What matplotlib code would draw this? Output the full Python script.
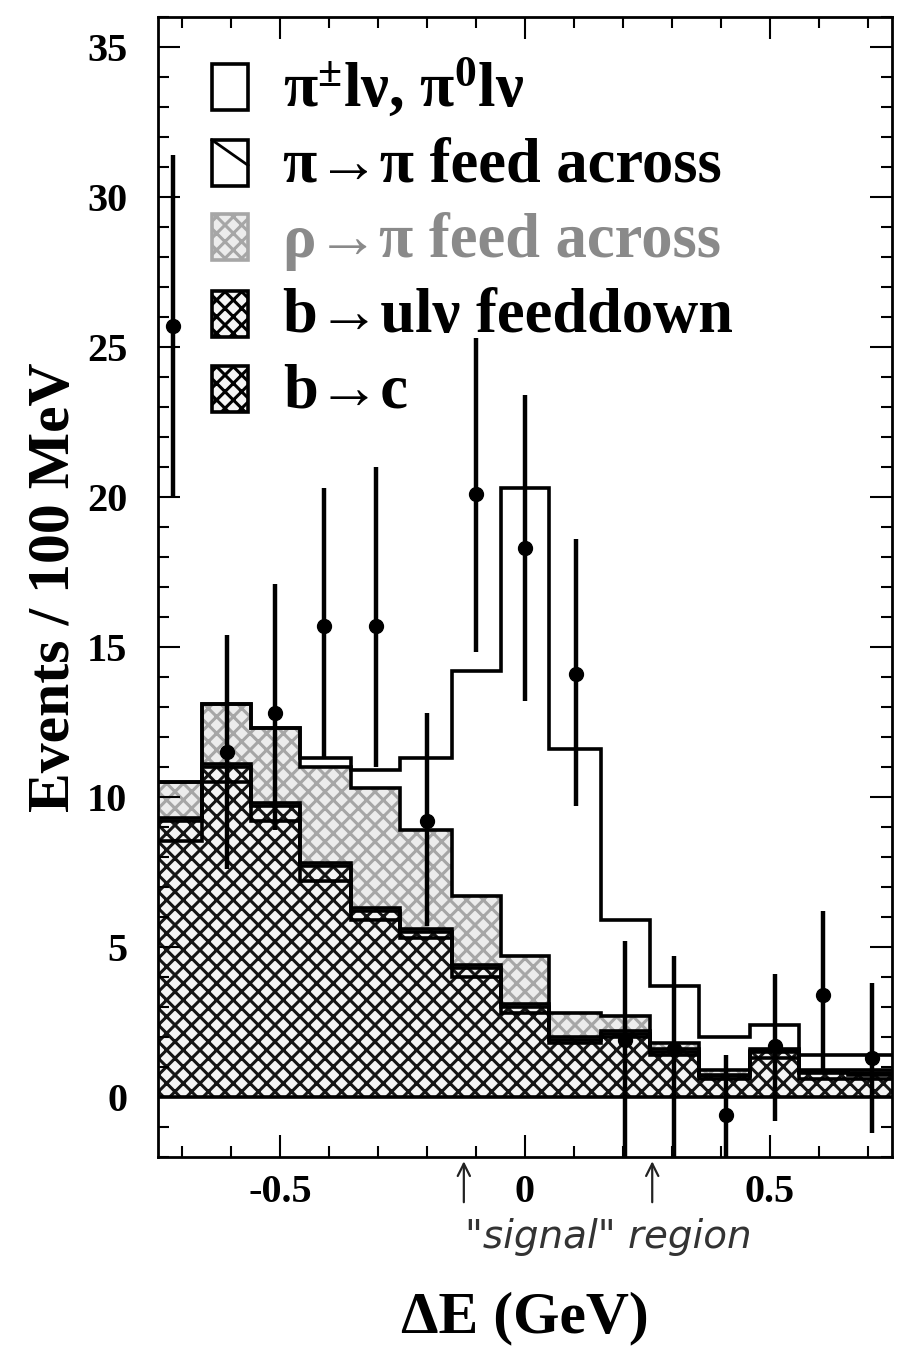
import matplotlib.pyplot as plt
from matplotlib.patches import Rectangle
from matplotlib.ticker import MultipleLocator, FixedLocator

plt.rcParams['font.family'] = ['Liberation Serif', 'DejaVu Serif']
plt.rcParams['font.weight'] = 'bold'
plt.rcParams['axes.unicode_minus'] = False
plt.rcParams['mathtext.fontset'] = 'custom'
plt.rcParams['mathtext.rm'] = 'Liberation Serif:bold'
plt.rcParams['mathtext.it'] = 'Liberation Serif:bold'
plt.rcParams['hatch.linewidth'] = 2.2

# bin edges of the histogram (GeV)
edges = [-0.75, -0.66, -0.56, -0.46, -0.355, -0.255, -0.15, -0.05,
         0.05, 0.155, 0.255, 0.355, 0.46, 0.56, 0.66, 0.75]

# stacked components, events per bin (bottom to top)
b_to_c = [8.55, 10.5, 9.2, 7.2, 5.9, 5.3, 4.0, 2.8, 1.8, 2.0, 1.4, 0.6, 1.3, 0.6, 0.6]
b_ulnu = [0.65, 0.5, 0.5, 0.5, 0.3, 0.2, 0.3, 0.2, 0.1, 0.1, 0.1, 0.1, 0.2, 0.2, 0.15]
pi_pi = [0.1, 0.1, 0.1, 0.1, 0.1, 0.1, 0.1, 0.1, 0.1, 0.1, 0.1, 0.05, 0.05, 0.05, 0.05]
rho_pi = [1.2, 2.0, 2.5, 3.2, 4.0, 3.3, 2.3, 1.6, 0.8, 0.5, 0.2, 0.15, 0.05, 0.05, 0.1]
signal = [0.0, 0.0, 0.0, 0.3, 0.6, 2.4, 7.5, 15.6, 8.8, 3.2, 1.9, 1.1, 0.8, 0.5, 0.5]

# data points with error bars
data_x = [-0.72, -0.61, -0.51, -0.41, -0.305, -0.2, -0.1, 0.0,
          0.105, 0.205, 0.305, 0.41, 0.51, 0.61, 0.71]
data_y = [25.7, 11.5, 12.8, 15.7, 15.7, 9.2, 20.1, 18.3, 14.1, 1.9, 1.6, -0.6, 1.7, 3.4, 1.3]
data_lo = [20.0, 7.6, 8.9, 11.3, 11.0, 5.7, 14.85, 13.2, 9.7, -2.2, -2.2, -2.2, -0.8, 0.8, -1.2]
data_hi = [31.4, 15.4, 17.1, 20.3, 21.0, 12.8, 25.3, 23.4, 18.6, 5.2, 4.7, 1.4, 4.1, 6.2, 3.8]

labels = [r'π$^{\pm}$lν, π$^{0}$lν', 'π→π feed across', 'ρ→π feed across',
          'b→ulν feeddown', 'b→c']
signal_region = [-0.125, 0.26]

fig = plt.figure(figsize=(8.98, 13.47), dpi=100)
ax = fig.add_axes([158 / 898, 190 / 1347, 734 / 898, 1140 / 1347])

# cumulative stack
layers = [b_to_c, b_ulnu, pi_pi, rho_pi, signal]
styles = [
    dict(facecolor='#f4f4f4', edgecolor='#151515', hatch='xx'),
    dict(facecolor='#f4f4f4', edgecolor='#151515', hatch='xx'),
    dict(facecolor='white', edgecolor='#222222', hatch='\\'),
    dict(facecolor='#ececec', edgecolor='#a6a6a6', hatch='xx'),
    dict(facecolor='white', edgecolor='white', hatch=None),
]
bottom = [0.0] * len(b_to_c)
tops = []
for vals, st in zip(layers, styles):
    top = [b + v for b, v in zip(bottom, vals)]
    ax.stairs(top, edges, baseline=bottom, fill=True, linewidth=0, **st)
    tops.append(top)
    bottom = top
for top in tops:
    ax.stairs(top, edges, baseline=None, color='black', linewidth=2.6)

ax.axhline(0, color='black', linewidth=2.6)

yerr = [[y - lo for y, lo in zip(data_y, data_lo)],
        [hi - y for y, hi in zip(data_y, data_hi)]]
ax.errorbar(data_x, data_y, yerr=yerr, fmt='o', color='black', ms=10,
            elinewidth=3.2, capsize=0, zorder=5, clip_on=True)

ax.set_xlim(-0.75, 0.75)
ax.set_ylim(-2, 36)
ax.xaxis.set_major_locator(FixedLocator([-0.5, 0, 0.5]))
ax.set_xticklabels(['-0.5', '0', '0.5'])
ax.xaxis.set_minor_locator(MultipleLocator(0.1))
ax.yaxis.set_major_locator(MultipleLocator(5))
ax.yaxis.set_minor_locator(MultipleLocator(1))
ax.tick_params(which='both', direction='in', top=True, right=True, width=1.5)
ax.tick_params(which='major', length=16, labelsize=29)
ax.tick_params(which='minor', length=8)
ax.tick_params(axis='x', pad=12)
ax.tick_params(axis='y', pad=22)
for sp in ax.spines.values():
    sp.set_linewidth(2)

ax.set_ylabel('Events / 100 MeV', fontsize=43, fontweight='bold', labelpad=4)
ax.set_xlabel('ΔE (GeV)', fontsize=43, fontweight='bold', labelpad=58)

# legend drawn by hand in axes coordinates
def ax_xy(px, py):
    return (px - 158) / 734, (1157 - py) / 1140

box_bottoms = [110, 186, 260, 337, 412]
baselines = [107, 182, 257, 332, 407]
box_styles = [
    dict(facecolor='white', edgecolor='black', hatch=None),
    dict(facecolor='white', edgecolor='black', hatch=None),
    dict(facecolor='#ececec', edgecolor='#a6a6a6', hatch='xx'),
    dict(facecolor='#f4f4f4', edgecolor='black', hatch='xx'),
    dict(facecolor='#f4f4f4', edgecolor='black', hatch='xx'),
]
text_colors = ['black', 'black', '#8a8a8a', 'black', 'black']
bw, bh = 36 / 734, 46 / 1140
for lab, yb, yt, st, tc in zip(labels, box_bottoms, baselines, box_styles, text_colors):
    x0, y0 = ax_xy(212, yb)
    ax.add_patch(Rectangle((x0, y0), bw, bh, transform=ax.transAxes,
                           linewidth=2.6, zorder=6, **st))
    tx, ty = ax_xy(283, yt)
    ax.text(tx, ty, lab, transform=ax.transAxes, fontsize=45, va='baseline',
            ha='left', color=tc, zorder=6)
# diagonal stroke in the pi->pi box
x0, y0 = ax_xy(212, box_bottoms[1])
ax.plot([x0, x0 + bw], [y0 + bh, y0 + bh * 0.45], transform=ax.transAxes,
        color='black', lw=2, zorder=7)

# handwritten "signal" region marks
for xs in signal_region:
    ax.annotate('', xy=(xs, -2.05), xytext=(xs, -3.6), annotation_clip=False,
                arrowprops=dict(arrowstyle='->', color='#222222', lw=1.6,
                                mutation_scale=22))
ax.text(0.17, -4.65, '"signal" region', ha='center', va='center', fontsize=28,
        fontweight='normal', fontstyle='italic', family='DejaVu Sans',
        color='#333333')

fig.savefig('out.png', dpi=100)
